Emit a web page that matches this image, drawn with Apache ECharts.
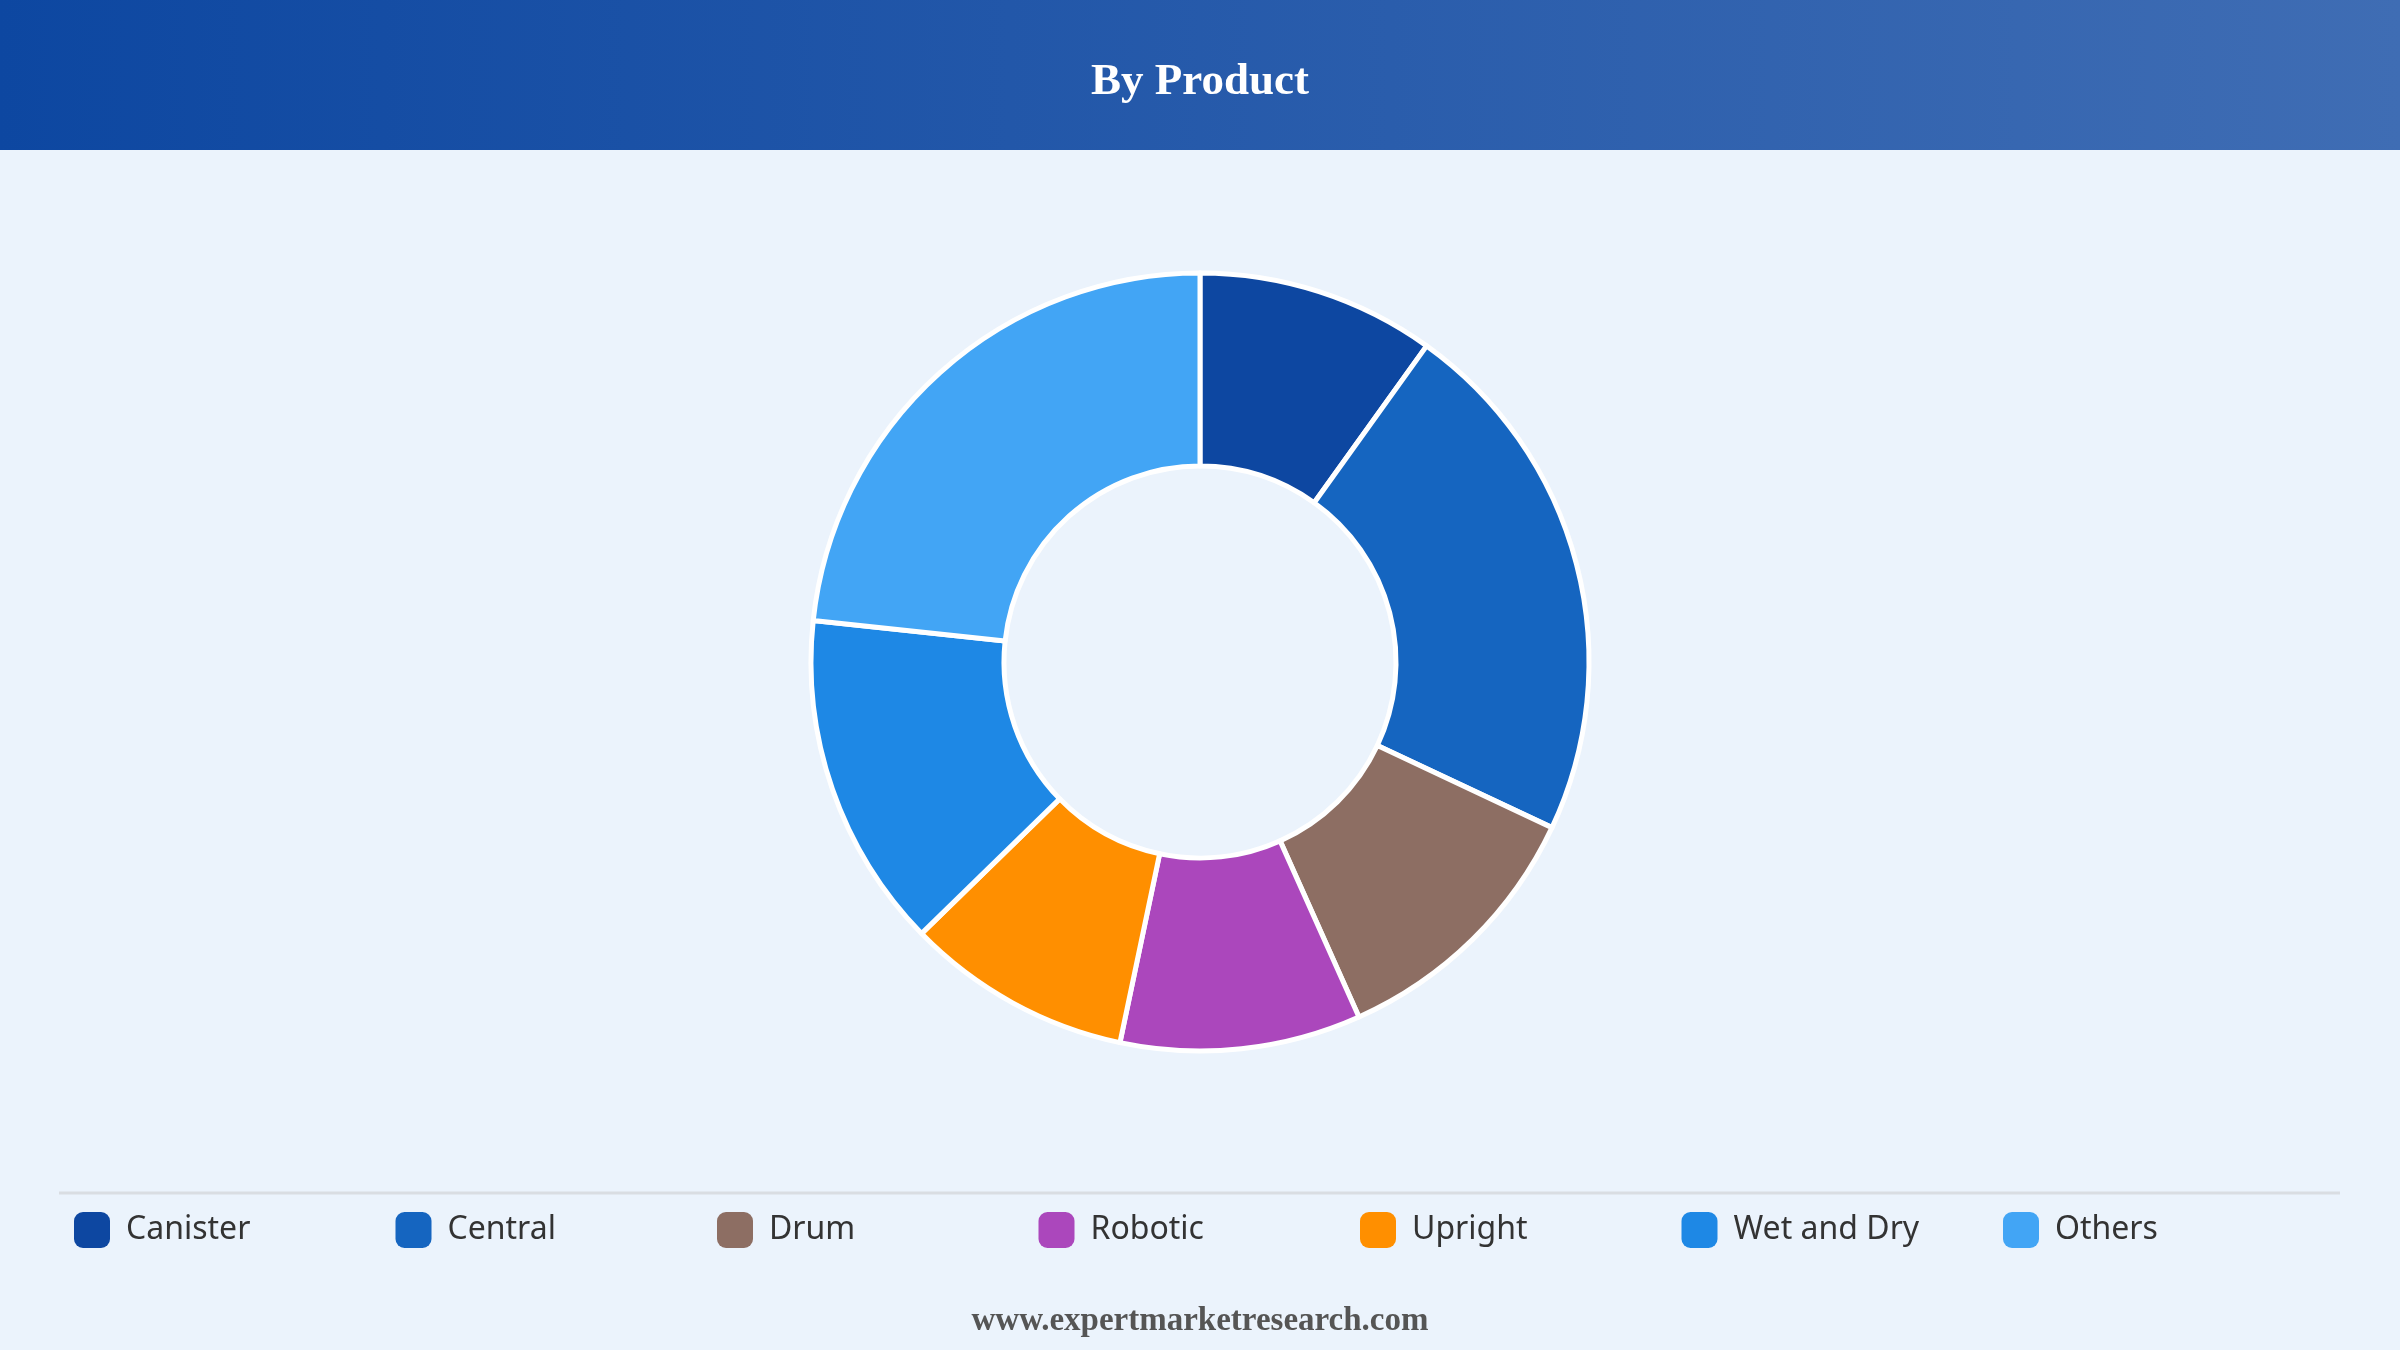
<!DOCTYPE html>
<html>
<head>
<meta charset="utf-8">
<style>
html,body{margin:0;padding:0;background:#ebf3fc;}
#chart{width:2400px;height:1350px;}
</style>
<script src="https://cdn.jsdelivr.net/npm/echarts@6/dist/echarts.min.js"></script>
</head>
<body>
<div id="chart"></div>
<script>
const titleText = 'By Product';
const footerText = 'www.expertmarketresearch.com';
const categories = ['Canister', 'Central', 'Drum', 'Robotic', 'Upright', 'Wet and Dry', 'Others'];
const values = [9.9, 22.1, 11.3, 10.0, 9.4, 14.0, 23.3];
const colors = ['#0d47a1', '#1565c0', '#8d6e63', '#ab47bc', '#ff8f00', '#1e88e5', '#42a5f5'];

const chart = echarts.init(document.getElementById('chart'), null, {renderer: 'canvas'});

const legends = categories.map((name, i) => ({
  left: 74 + i * 321.5,
  top: 1212,
  padding: 0,
  orient: 'horizontal',
  icon: 'roundRect',
  itemWidth: 36,
  itemHeight: 36,
  selectedMode: false,
  itemStyle: {borderWidth: 0},
  data: [name],
  textStyle: {
    fontFamily: 'Noto Sans',
    fontSize: 32,
    color: '#333333',
    padding: [0, 0, 4, 11]
  }
}));

chart.setOption({
  backgroundColor: '#ebf3fc',
  animation: false,
  color: colors,
  title: {
    text: titleText,
    left: 'center',
    top: 55,
    textStyle: {
      fontFamily: 'Liberation Serif',
      fontWeight: 'bold',
      fontSize: 45,
      color: '#ffffff'
    }
  },
  graphic: [
    {
      type: 'rect',
      z: -10,
      shape: {x: 0, y: 0, width: 2400, height: 150},
      style: {
        fill: new echarts.graphic.LinearGradient(0, 0, 1, 0, [
          {offset: 0, color: '#0d47a1'},
          {offset: 1, color: '#3f6db4'}
        ])
      }
    },
    {
      type: 'line',
      shape: {x1: 59, y1: 1193, x2: 2340, y2: 1193},
      style: {stroke: '#d9dde2', lineWidth: 3}
    },
    {
      type: 'text',
      left: 'center',
      top: 1305,
      style: {
        text: footerText,
        fontFamily: 'Liberation Serif',
        fontWeight: 'bold',
        fontSize: 33,
        fill: '#555555'
      }
    }
  ],
  legend: legends,
  series: [{
    type: 'pie',
    center: [1200, 662],
    radius: [196, 389],
    startAngle: 90,
    clockwise: true,
    avoidLabelOverlap: false,
    label: {show: false},
    labelLine: {show: false},
    emphasis: {disabled: true},
    itemStyle: {borderColor: '#ffffff', borderWidth: 5},
    data: categories.map((name, i) => ({name: name, value: values[i]}))
  }]
});
</script>
</body>
</html>
